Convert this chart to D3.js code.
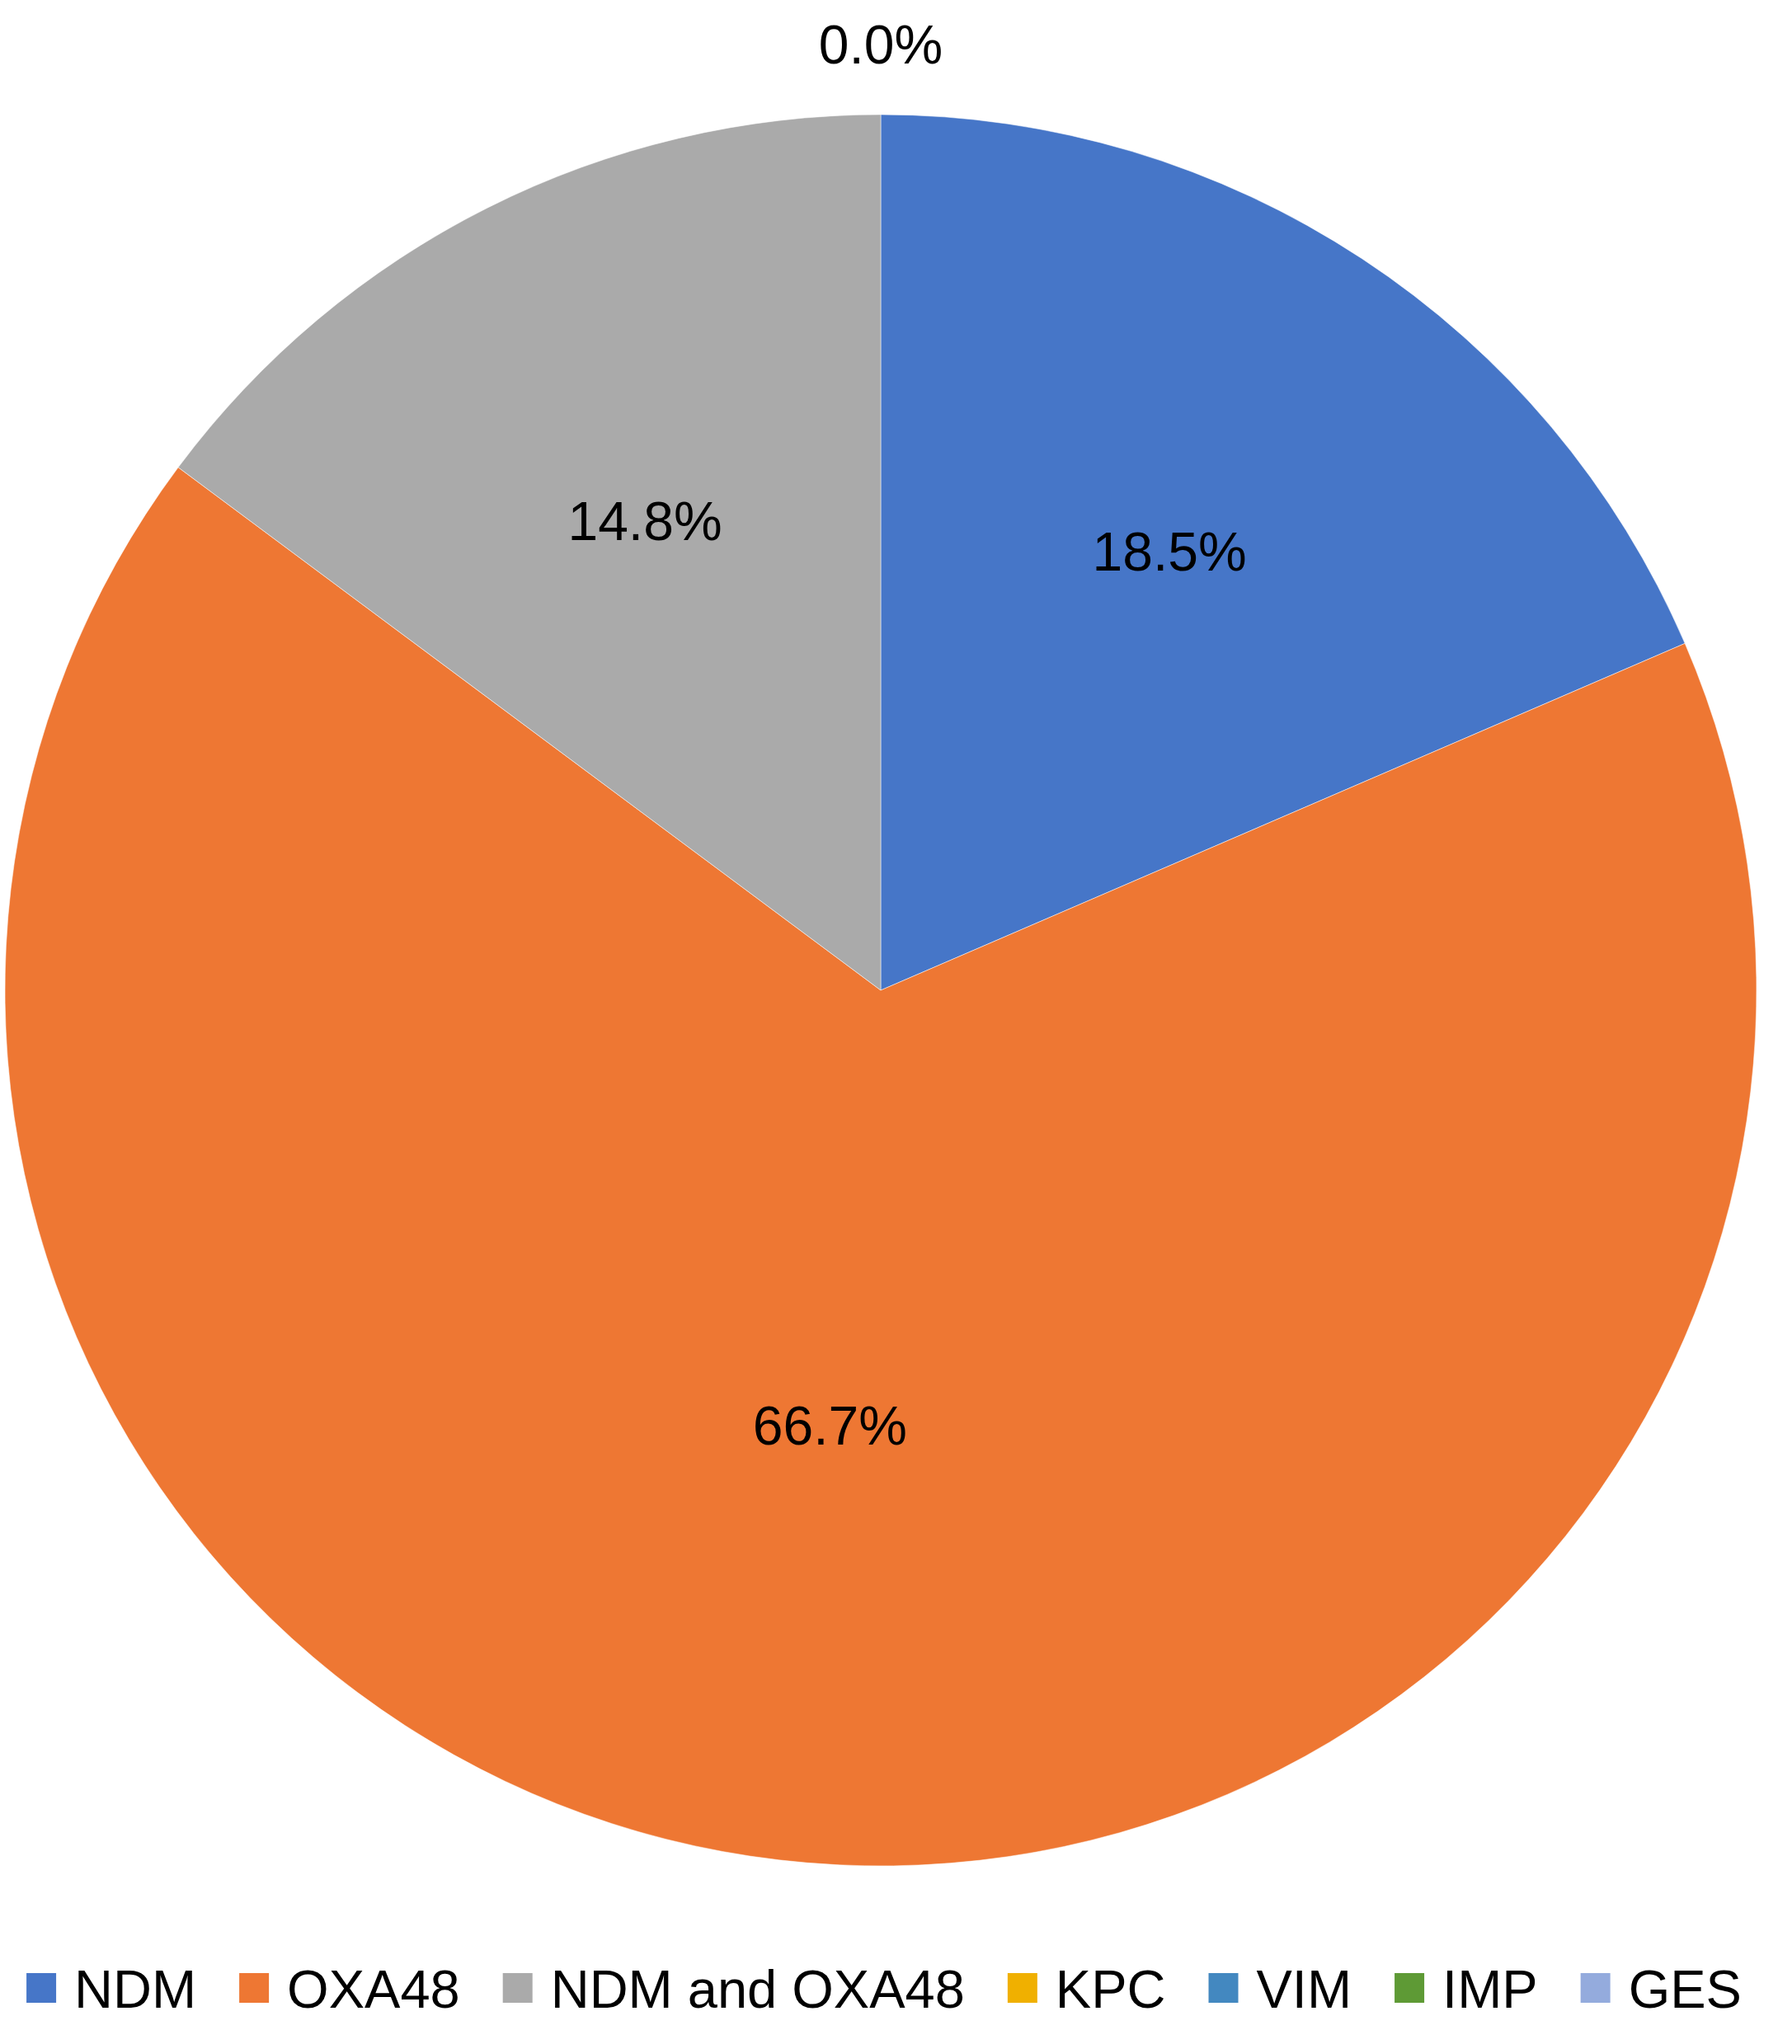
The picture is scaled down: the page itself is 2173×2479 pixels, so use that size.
<!DOCTYPE html>
<html>
<head>
<meta charset="utf-8">
<script src="https://cdn.jsdelivr.net/npm/d3@7"></script>
<style>
  html, body { margin: 0; padding: 0; background: #ffffff; }
  svg { display: block; }
  text { font-family: "Liberation Sans", Arial, sans-serif; fill: #000; }
</style>
</head>
<body>
<svg id="chart" width="2173" height="2479"></svg>
<script>
// Data
const categories = ["NDM", "OXA48", "NDM and OXA48", "KPC", "VIM", "IMP", "GES"];
const counts = [5, 18, 4, 0, 0, 0, 0];
const colors = ["#4676C8", "#EE7733", "#AAAAAA", "#F0B000", "#4388C0", "#5E9A35", "#94ABDD"];

const W = 2173, H = 2479;
const cx = 1068, cy = 1201, R = 1062;
const svg = d3.select("#chart");

const total = d3.sum(counts);
const data = categories.map((c, i) => ({ name: c, value: counts[i], color: colors[i] }));

const pie = d3.pie().value(d => d.value).sort(null);
const arcs = pie(data);
const arc = d3.arc().innerRadius(0).outerRadius(R);
// Labels sit closer to the centre for slices larger than half the pie
const labelRadius = d => (d.endAngle - d.startAngle > Math.PI ? 0.5 : 0.6) * R;
const outerLabelArc = d3.arc().innerRadius(R + 86).outerRadius(R + 86);

const g = svg.append("g").attr("transform", `translate(${cx},${cy})`);

g.selectAll("path.slice")
  .data(arcs.filter(d => d.data.value > 0))
  .join("path")
  .attr("class", "slice")
  .attr("d", arc)
  .attr("fill", d => d.data.color)
  .attr("stroke", "#ffffff")
  .attr("stroke-opacity", 0.5)
  .attr("stroke-width", 1);

const fmt = v => (v / total * 100).toFixed(1) + "%";

// Labels for non-zero slices
g.selectAll("text.lbl")
  .data(arcs.filter(d => d.data.value > 0))
  .join("text")
  .attr("class", "lbl")
  .attr("transform", d => {
    const rr = labelRadius(d);
    const c = d3.arc().innerRadius(rr).outerRadius(rr).centroid(d);
    return `translate(${c})`;
  })
  .attr("text-anchor", "middle")
  .attr("dy", "0.36em")
  .attr("font-size", 66)
  .text(d => fmt(d.data.value));

// Zero-value slices share one position at the top; their labels coincide
const zeros = arcs.filter(d => d.data.value === 0);
if (zeros.length) {
  g.append("text")
    .attr("transform", `translate(${outerLabelArc.centroid(zeros[0])})`)
    .attr("text-anchor", "middle")
    .attr("dy", "0.36em")
    .attr("font-size", 66)
    .text(fmt(0));
}

// Legend
const legendY = 2435;
const marker = 36, gapMT = 22, gapItem = 52;
const lg = svg.append("g");
const items = lg.selectAll("g.item").data(data).join("g").attr("class", "item");
items.append("rect")
  .attr("width", marker).attr("height", marker)
  .attr("y", legendY - 42)
  .attr("fill", d => d.color);
items.append("text")
  .attr("x", marker + gapMT)
  .attr("y", legendY)
  .attr("font-size", 65)
  .text(d => d.name);
let widths = [];
items.each(function () {
  widths.push(marker + gapMT + d3.select(this).select("text").node().getComputedTextLength());
});
const totalW = d3.sum(widths) + gapItem * (widths.length - 1);
let x0 = 1072 - totalW / 2;
items.each(function (d, i) {
  d3.select(this).attr("transform", `translate(${x0},0)`);
  x0 += widths[i] + gapItem;
});
</script>
</body>
</html>
